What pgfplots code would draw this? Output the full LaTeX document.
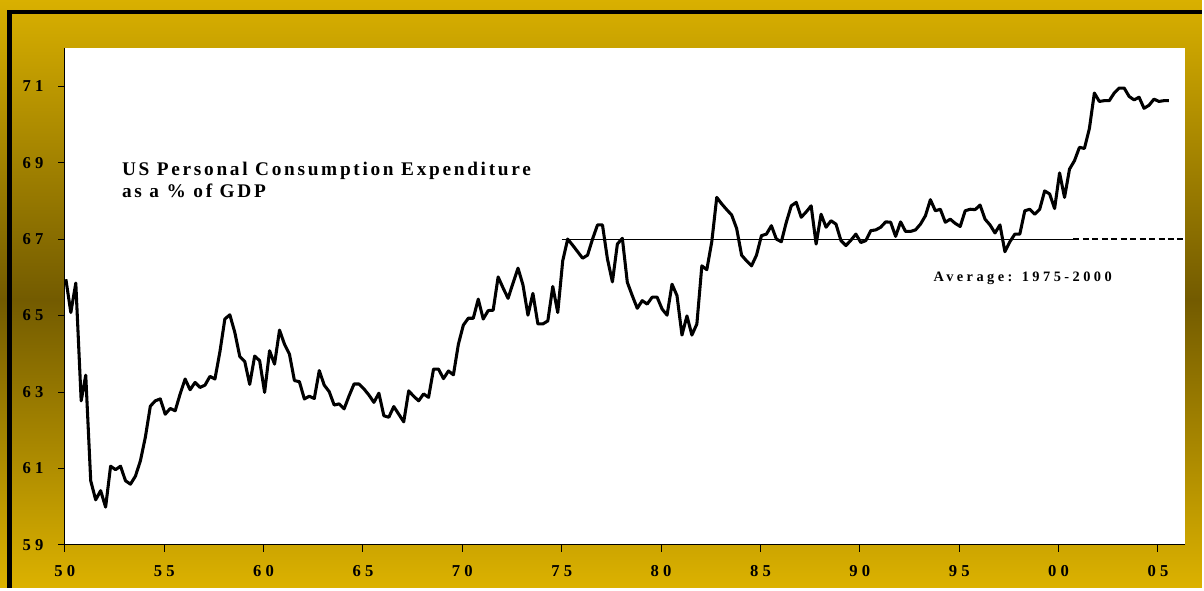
\documentclass[border=0pt]{standalone}
\usepackage{pgfplots}
\pgfplotsset{compat=1.18}
\usepackage{fontspec}
\setmainfont{Liberation Serif}
\newfontfamily\titlefont[LetterSpace=14]{Liberation Serif}
\newfontfamily\tickfont[LetterSpace=25]{Liberation Serif}
\newfontfamily\avgfont[LetterSpace=24]{Liberation Serif}
\definecolor{goldtop}{HTML}{D9B000}
\definecolor{goldbot}{HTML}{DCB200}
\definecolor{darkgold}{HTML}{735B00}

\pgfplotstableread{
year pce
1950.05 65.95
1950.30 65.08
1950.55 65.85
1950.82 62.77
1951.05 63.44
1951.30 60.68
1951.55 60.18
1951.80 60.42
1952.05 59.99
1952.30 61.06
1952.55 60.97
1952.80 61.06
1953.05 60.68
1953.30 60.59
1953.55 60.80
1953.80 61.20
1954.05 61.82
1954.30 62.63
1954.55 62.77
1954.80 62.82
1955.05 62.42
1955.30 62.57
1955.55 62.51
1955.80 62.95
1956.05 63.34
1956.30 63.06
1956.55 63.25
1956.80 63.12
1957.05 63.18
1957.30 63.41
1957.55 63.34
1957.80 64.05
1958.05 64.91
1958.30 65.02
1958.55 64.56
1958.80 63.93
1959.05 63.80
1959.30 63.20
1959.55 63.94
1959.80 63.82
1960.05 62.99
1960.30 64.08
1960.55 63.73
1960.80 64.62
1961.05 64.25
1961.30 63.99
1961.55 63.30
1961.80 63.27
1962.05 62.82
1962.30 62.89
1962.55 62.83
1962.80 63.56
1963.05 63.18
1963.30 63.01
1963.55 62.66
1963.80 62.69
1964.05 62.56
1964.30 62.90
1964.55 63.21
1964.80 63.21
1965.05 63.08
1965.30 62.92
1965.55 62.73
1965.80 62.97
1966.05 62.38
1966.30 62.34
1966.55 62.62
1966.80 62.42
1967.05 62.22
1967.30 63.03
1967.55 62.89
1967.80 62.77
1968.05 62.95
1968.30 62.86
1968.55 63.60
1968.80 63.60
1969.05 63.35
1969.30 63.55
1969.55 63.45
1969.80 64.25
1970.05 64.75
1970.30 64.93
1970.55 64.93
1970.80 65.43
1971.05 64.91
1971.30 65.13
1971.55 65.14
1971.80 66.01
1972.05 65.72
1972.30 65.45
1972.55 65.85
1972.80 66.24
1973.05 65.80
1973.30 65.01
1973.55 65.58
1973.80 64.78
1974.05 64.78
1974.30 64.86
1974.55 65.76
1974.80 65.08
1975.05 66.43
1975.30 67.00
1975.55 66.84
1975.80 66.67
1976.05 66.50
1976.30 66.58
1976.55 67.00
1976.80 67.37
1977.05 67.37
1977.30 66.48
1977.55 65.88
1977.80 66.87
1978.05 67.02
1978.30 65.87
1978.55 65.52
1978.80 65.19
1979.05 65.39
1979.30 65.30
1979.55 65.48
1979.80 65.48
1980.05 65.17
1980.30 65.01
1980.55 65.82
1980.80 65.52
1981.05 64.49
1981.30 64.99
1981.55 64.49
1981.80 64.78
1982.05 66.30
1982.30 66.20
1982.55 66.93
1982.80 68.09
1983.05 67.92
1983.30 67.77
1983.55 67.63
1983.80 67.28
1984.05 66.58
1984.30 66.43
1984.55 66.30
1984.80 66.58
1985.05 67.09
1985.30 67.13
1985.55 67.35
1985.80 67.00
1986.05 66.93
1986.30 67.44
1986.55 67.87
1986.80 67.96
1987.05 67.57
1987.30 67.71
1987.55 67.87
1987.80 66.87
1988.05 67.65
1988.30 67.31
1988.55 67.48
1988.80 67.39
1989.05 66.96
1989.30 66.83
1989.55 66.97
1989.80 67.13
1990.05 66.91
1990.30 66.96
1990.55 67.22
1990.80 67.24
1991.05 67.31
1991.30 67.45
1991.55 67.44
1991.80 67.07
1992.05 67.45
1992.30 67.20
1992.55 67.20
1992.80 67.24
1993.05 67.39
1993.30 67.61
1993.55 68.03
1993.80 67.74
1994.05 67.78
1994.30 67.44
1994.55 67.52
1994.80 67.41
1995.05 67.33
1995.30 67.74
1995.55 67.78
1995.80 67.77
1996.05 67.89
1996.30 67.52
1996.55 67.37
1996.80 67.16
1997.05 67.37
1997.30 66.67
1997.55 66.93
1997.80 67.13
1998.05 67.13
1998.30 67.74
1998.55 67.78
1998.80 67.65
1999.05 67.78
1999.30 68.26
1999.55 68.18
1999.80 67.80
2000.05 68.73
2000.30 68.09
2000.55 68.83
2000.80 69.05
2001.05 69.40
2001.30 69.37
2001.55 69.89
2001.80 70.82
2002.05 70.60
2002.30 70.62
2002.55 70.62
2002.80 70.82
2003.05 70.95
2003.30 70.95
2003.55 70.73
2003.80 70.64
2004.05 70.71
2004.30 70.42
2004.55 70.50
2004.80 70.66
2005.05 70.60
2005.30 70.62
2005.55 70.62
}\pcedata

\begin{document}
\begin{tikzpicture}
% background, 1px = 0.75pt
\shade[top color=goldtop, bottom color=darkgold] (0pt,216.75pt) rectangle (903pt,441.75pt);
\shade[top color=darkgold, bottom color=goldbot] (0pt,0pt) rectangle (903pt,216.75pt);
\draw[line width=3.4pt, line join=miter] (7.3pt,0pt) -- (7.3pt,432.75pt) -- (903pt,432.75pt);

\begin{axis}[
    at={(48.75pt,32.25pt)}, anchor=south west,
    scale only axis, width=841.5pt, height=373.5pt,
    xmin=1950, xmax=2006.35, ymin=59, ymax=72,
    axis background/.style={fill=white},
    axis x line*=bottom, axis y line*=left,
    axis line style={line width=0.75pt, black},
    tick align=outside, major tick length=5pt,
    tick style={line width=0.75pt, black},
    xtick={1950,1955,...,2005},
    xticklabels={50,55,60,65,70,75,80,85,90,95,00,05},
    ytick={59,61,...,71},
    yticklabels={59,61,63,65,67,69,71},
    ticklabel style={font=\tickfont\bfseries\fontsize{12.5}{12.5}\selectfont, inner sep=0pt},
    yticklabel style={anchor=east, xshift=-11pt},
    xticklabel style={anchor=north, yshift=-10pt},
    clip=false,
]
\addplot[black, line width=2.3pt, line join=round] table[x=year, y=pce] {\pcedata};
\addplot[black, line width=0.75pt] coordinates {(1975,67) (2000.75,67)};
\addplot[black, line width=1.1pt, dash pattern=on 4.5pt off 2.6pt] coordinates {(2000.75,67) (2006.35,67)};
\end{axis}

\node[anchor=base west, inner sep=0pt, font=\titlefont\bfseries\fontsize{14.5}{14.5}\selectfont] at (91.5pt,310pt) {US Personal Consumption Expenditure};
\node[anchor=base west, inner sep=0pt, font=\titlefont\bfseries\fontsize{14.5}{14.5}\selectfont] at (91.5pt,293.5pt) {as a \% of GDP};
\node[anchor=base west, inner sep=0pt, font=\avgfont\bfseries\fontsize{10.8}{10.8}\selectfont] at (701.25pt,230pt) {Average: 1975-2000};
\end{tikzpicture}
\end{document}
